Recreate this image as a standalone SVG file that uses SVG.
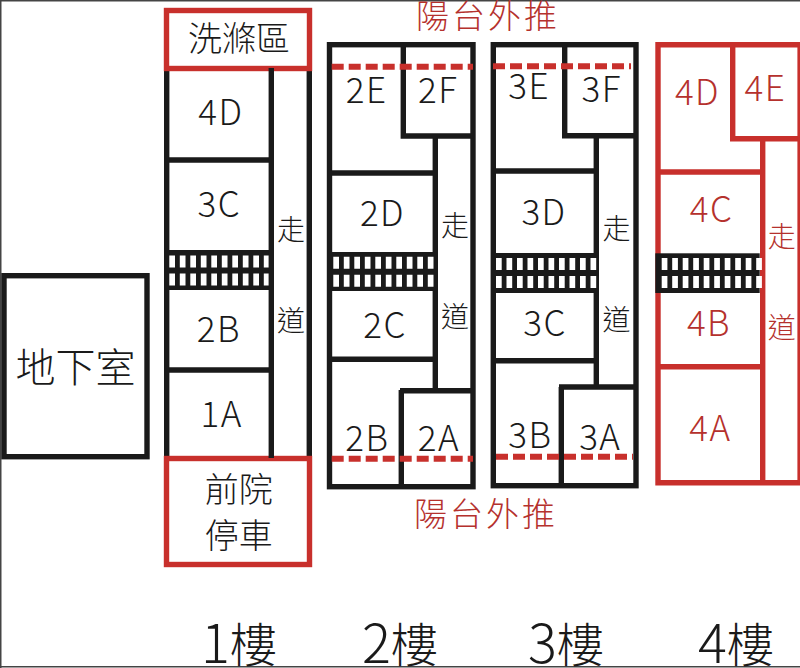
<svg xmlns="http://www.w3.org/2000/svg" xmlns:xlink="http://www.w3.org/1999/xlink" width="800" height="668" viewBox="0 0 800 668">
<style>
text{font-family:"Noto Sans CJK TC","Noto Sans",sans-serif;font-weight:300;text-anchor:middle;fill:#1a1a1a;font-size:35px;letter-spacing:1.5px}
.r{fill:#b5312d}
.ws{font-size:28px;letter-spacing:0}
.cj{font-size:34px;letter-spacing:0}
.t{font-size:33px;letter-spacing:3px}
.fl{font-size:47px;letter-spacing:0}
.d{font-size:54px}
.k{fill:none;stroke:#1a1a1a;stroke-width:5.4}
.c{fill:none;stroke:#c8302c;stroke-width:5.4}
.dash{fill:none;stroke:#c8302c;stroke-width:6;stroke-dasharray:12 5}
.band{fill:#1a1a1a}
.cell{fill:#fff}
</style>
<defs>
<g id="cells">
<path class="cell" d="M0 0h5.7v12h-5.7zM10.5 0h5.7v12h-5.7zM21 0h5.7v12h-5.7zM31.5 0h5.7v12h-5.7zM42 0h5.7v12h-5.7zM52.5 0h5.7v12h-5.7zM63 0h5.7v12h-5.7zM73.5 0h5.7v12h-5.7zM84 0h5.7v12h-5.7zM94.5 0h5.7v12h-5.7z"/>
<path class="cell" d="M0 18h5.7v12h-5.7zM10.5 18h5.7v12h-5.7zM21 18h5.7v12h-5.7zM31.5 18h5.7v12h-5.7zM42 18h5.7v12h-5.7zM52.5 18h5.7v12h-5.7zM63 18h5.7v12h-5.7zM73.5 18h5.7v12h-5.7zM84 18h5.7v12h-5.7zM94.5 18h5.7v12h-5.7z"/>
</g>
</defs>
<rect width="800" height="668" fill="#fff"/>
<g id="frame"><path d="M0 .7H800M.7 0V668M0 666.8H800" fill="none" stroke="#444" stroke-width="1.6"/></g>

<g id="basement">
<rect class="k" x="4" y="275.7" width="143" height="181"/>
<text x="75.5" y="382" style="font-size:40px;letter-spacing:0">地下室</text>
</g>

<g id="floor1">
<path class="k" d="M166.7 68V458M309.3 68V458M167 160H271M167 370H271"/>
<rect class="band" x="167" y="250" width="104" height="40"/>
<use xlink:href="#cells" href="#cells" x="169.3" y="255.4"/>
<rect class="c" x="166.5" y="10.5" width="143" height="58"/>
<rect class="c" x="166.5" y="458.5" width="143" height="106"/>
<path class="k" d="M271.3 68V458"/>
<text x="239" y="51" class="cj">洗滌區</text>
<text x="220.8" y="125">4D</text>
<text x="219.3" y="216.7">3C</text>
<text x="218.8" y="341.7">2B</text>
<text x="221.7" y="426.7">1A</text>
<text x="291" y="239.5" class="ws">走</text>
<text x="291" y="330.5" class="ws">道</text>
<text x="238.7" y="502" class="cj">前院</text>
<text x="238.7" y="548" class="cj">停車</text>
<text x="239" y="662.7" class="fl"><tspan class="d">1</tspan><tspan dy="-1">樓</tspan></text>
</g>

<g id="floor2">
<rect class="k" x="329.5" y="44.7" width="143.5" height="442"/>
<path class="k" d="M403.3 44V136H473M435.3 136V388M330 173H435M330 359.3H435M400 390.7H473M401.3 390V487"/>
<rect class="band" x="330" y="252" width="105" height="39"/>
<use xlink:href="#cells" href="#cells" x="333.3" y="256.7"/>
<path class="dash" d="M331.7 66.7H473M331.7 458.7H473"/>
<text x="366.7" y="103.3">2E</text>
<text x="438.3" y="103.3">2F</text>
<text x="382.5" y="226">2D</text>
<text x="385" y="337.7">2C</text>
<text x="367.3" y="451">2B</text>
<text x="439" y="451">2A</text>
<text x="455" y="236" class="ws">走</text>
<text x="455" y="326.5" class="ws">道</text>
<text x="400" y="662.7" class="fl"><tspan class="d">2</tspan><tspan dy="-1">樓</tspan></text>
</g>

<g id="floor3">
<rect class="k" x="493.3" y="44.7" width="142.7" height="441"/>
<path class="k" d="M564.7 44V135.7H636M596.3 136V387M493 171H596M493 360.7H596M559 387H636M561.3 387V486"/>
<rect class="band" x="493" y="253" width="103" height="40"/>
<use xlink:href="#cells" href="#cells" x="496" y="258"/>
<path class="dash" d="M493 66.3H631M496 456.7H633"/>
<text x="529.2" y="99.3">3E</text>
<text x="601.7" y="101.7">3F</text>
<text x="544" y="225">3D</text>
<text x="545" y="335.7">3C</text>
<text x="530.3" y="447.7">3B</text>
<text x="600.3" y="450">3A</text>
<text x="616.5" y="238.5" class="ws">走</text>
<text x="616.5" y="329.5" class="ws">道</text>
<text x="566" y="662.7" class="fl"><tspan class="d">3</tspan><tspan dy="-1">樓</tspan></text>
</g>

<g id="floor4">
<path class="c" d="M800 44.7H658V482.7H800M732.7 44V138.7H800M762.7 136V482.7M658 172H762.7M658 366.7H762.7"/>
<path d="M798.7 44V484" fill="none" stroke="#c8302c" stroke-width="2.6"/>
<rect class="band" x="655.3" y="253.3" width="104.4" height="39.7"/>
<use xlink:href="#cells" href="#cells" x="661.7" y="258"/>
<text x="697.5" y="105" class="r">4D</text>
<text x="765.3" y="100.7" class="r">4E</text>
<text x="711.5" y="222" class="r">4C</text>
<text x="709" y="335.7" class="r">4B</text>
<text x="710.5" y="441" class="r">4A</text>
<text x="781.7" y="247" class="ws r">走</text>
<text x="781.7" y="337.5" class="ws r">道</text>
<text x="736" y="662.7" class="fl"><tspan class="d">4</tspan><tspan dy="-1">樓</tspan></text>
</g>

<g id="balcony-labels">
<text x="488" y="28" class="t r">陽台外推</text>
<text x="486" y="526" class="t r">陽台外推</text>
</g>
</svg>
